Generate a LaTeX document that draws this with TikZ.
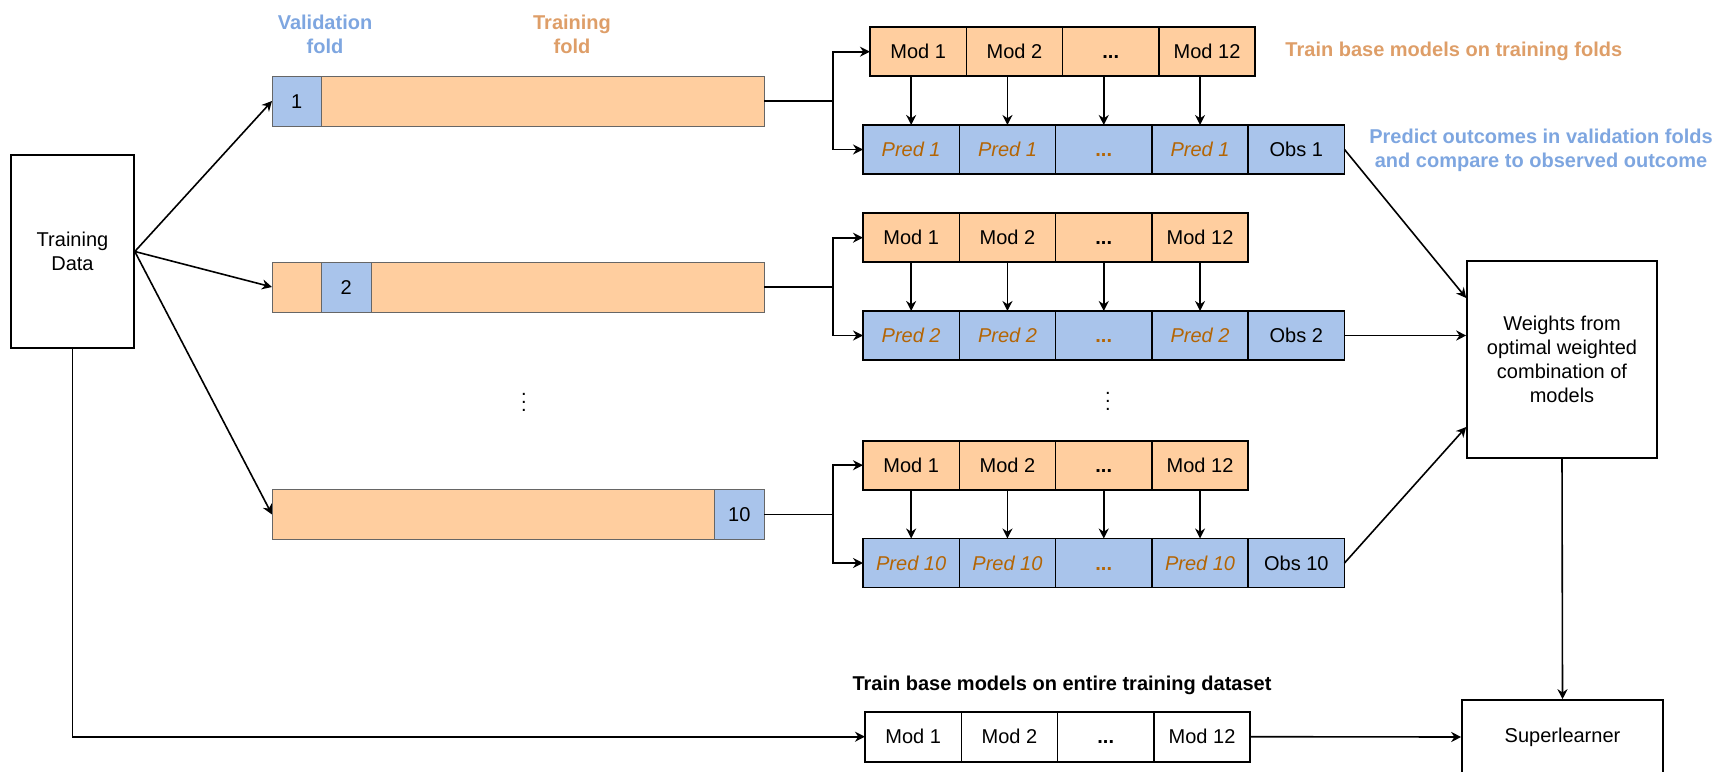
\documentclass[tikz,border=0pt]{standalone}
\usepackage{fontspec}
\setmainfont{Liberation Sans}
\usetikzlibrary{arrows.meta}
\usetikzlibrary{calc}
\usetikzlibrary{positioning}

\definecolor{orfill}{HTML}{FFCE9F}
\definecolor{blfill}{HTML}{A9C4EB}
\definecolor{ortext}{HTML}{DE9E68}
\definecolor{bltext}{HTML}{7EA6E0}
\definecolor{predtext}{HTML}{B46504}

\begin{document}
\begin{tikzpicture}[
	x=0.5pt, y=-0.5pt,
  > = {Stealth[length=5pt,width=5pt]},
  line width=0.8pt,
  font=\fontsize{10}{12}\selectfont,
  box/.style = {draw, inner sep=0pt, align=center},
  cell/.style = {draw, inner sep=0pt, outer sep=0pt, text height=7.2pt, text depth=0pt, minimum width=48.15pt, minimum height=24.5pt},
  modcell/.style = {cell, fill=orfill},
  predcell/.style = {cell, fill=blfill},
  seg/.style = {draw=black!60, line width=0.5pt, inner sep=0pt, outer sep=0pt, text height=7.2pt, text depth=0pt, minimum height=25pt},
  tseg/.style = {seg, fill=orfill},
  vseg/.style = {seg, fill=blfill, minimum width=24.75pt},
  note/.style = {font=\fontsize{10}{12}\selectfont\bfseries, align=center}
  ]
	\useasboundingbox (0,0) rectangle (1734,771);

	\node[box, minimum width=61.5pt, minimum height=96.5pt] (td) at (72.5,251.5) {Training\\Data};

	\node[note, text=bltext] (vlab) at (325,34.7) {Validation\\fold};
	\node[note, text=ortext] (tlab) at (572,34.7) {Training\\fold};

	% folds
	\node[vseg, anchor=west] (v1) at (272,101) {1};
	\node[tseg, right=0pt of v1, minimum width=221.25pt] (t1) {};

	\node[tseg, anchor=west, minimum width=24.75pt] (t2a) at (272,287) {};
	\node[vseg, right=0pt of t2a] (v2) {2};
	\node[tseg, right=0pt of v2, minimum width=196.5pt] (t2) {};

	\node[tseg, anchor=west, minimum width=221.25pt] (t10) at (272,514.5) {};
	\node[vseg, right=0pt of t10] (v10) {10};

	\node[font=\boldmath] (dots1) at (524,396) {$\vdots$};
	\node[font=\boldmath] (dots2) at (1108,395) {$\vdots$};

	\foreach \f/\yb/\xm/\bw/\be in {1/101/870/v1/t1, 2/287/863/t2a/t2, 10/514.5/863/t10/v10} {
		\foreach \k/\txt in {1/Mod 1, 2/Mod 2, 3/\textbf{...}, 4/Mod 12}
			\node[modcell] (m\f-\k) at (\xm+96.3*\k-48.15, \yb-49.3) {\txt};
		\foreach \k in {1,2,4}
			\node[predcell, text=predtext, font=\fontsize{10}{12}\selectfont\itshape] (p\f-\k) at (863+96.3*\k-48.15, \yb+48.5) {Pred \f};
		\node[predcell, text=predtext] (p\f-3) at (863+96.3*3-48.15, \yb+48.5) {\textbf{...}};
		\node[predcell] (p\f-5) at (863+96.3*5-48.15, \yb+48.5) {Obs \f};

		\foreach \k in {1,...,4}
			\draw[->] (m\f-\k.south -| p\f-\k.north) -- (p\f-\k.north);

		\coordinate (b\f) at (833,\yb);
		\draw (\be.east) -- (b\f);
		\draw[->] (b\f) |- (m\f-1.west);
		\draw[->] (b\f) |- (p\f-1.west);
		\draw[->] (td.east) -- (\bw.west);
	}

	\node[note, text=ortext, anchor=west] (trlab) at (1278,51.7) {Train base models on training folds};
	\node[note, text=bltext] (prlab) at (1541,150) {Predict outcomes in validation folds\\and compare to observed outcome};

	\node[box, minimum width=95pt, minimum height=98.5pt] (wt) at (1562,359.5) {Weights from\\optimal weighted\\combination of\\models};
	\node[box, minimum width=100.5pt, minimum height=37pt] (sl) at (1562.5,737) {Superlearner};

	% full training set
	\node[note] (blab) at (1062,685) {Train base models on entire training dataset};
	\foreach \k/\txt in {1/Mod 1, 2/Mod 2, 3/\textbf{...}, 4/Mod 12}
		\node[cell, minimum height=25pt] (bm\k) at (865+96.3*\k-48.15, 736.7) {\txt};

	\draw[->] (p1-5.east) -- ([yshift=30.75pt]wt.west);
	\draw[->] (p2-5.east) -- (p2-5.east -| wt.west);
	\draw[->] (p10-5.east) -- ([yshift=-33.75pt]wt.west);
	\draw[->] (wt.south) -- (sl.north);
	\draw[->] (bm4.east) -- (sl.west);
	\draw[->] (td.south) |- (bm1.west);

\end{tikzpicture}
\end{document}
